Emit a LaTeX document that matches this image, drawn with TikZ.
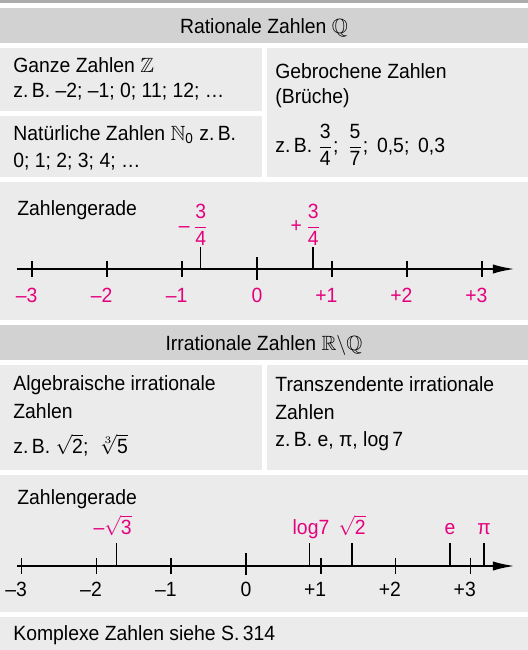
\documentclass[tikz,border=0pt]{standalone}
\usepackage{amsmath}
\usepackage{amssymb}
\usepackage{fontspec}
\setmainfont{Liberation Sans}[FakeStretch=0.94]
\usetikzlibrary{
  arrows.meta,
  positioning
}
\definecolor{zbBar}{HTML}{ABACAB}
\definecolor{zbHead}{HTML}{D1D2D1}
\definecolor{zbPanel}{HTML}{EBEBEB}
\definecolor{zbMag}{HTML}{E5007D}
\newcommand{\zbsize}{\fontsize{10.3}{12.4}\selectfont}
\newcommand{\zbfr}[2]{\dfrac{\text{#1}}{\text{#2}}}
\tikzset{
  headpanel/.style={fill=zbHead},
  panel/.style={fill=zbPanel},
  boxtext/.style={anchor=base west, inner sep=0pt, align=left, font=\zbsize},
  headtext/.style={anchor=base, inner sep=0pt, font=\zbsize},
  axis/.style={line width=1.1pt, -{Latex[length=11pt, width=4.6pt]}},
  tick/.style={line width=0.75pt},
  numlabel/.style={anchor=base, inner sep=0pt, font=\zbsize},
  hilabel/.style={numlabel, text=zbMag}
}

\begin{document}
\begin{tikzpicture}[x=0.5pt, y=-0.5pt]
  \useasboundingbox (0,0) rectangle (528,650);
  % panels
  \fill[zbBar] (0,0) rectangle (528,3);
  \fill[headpanel] (0,8) rectangle (528,43);
  \fill[panel] (0,48) rectangle (262,111);
  \fill[panel] (0,116) rectangle (262,177);
  \fill[panel] (267,48) rectangle (528,177);
  \fill[panel] (0,182) rectangle (528,320);
  \fill[headpanel] (0,325) rectangle (528,360);
  \fill[panel] (0,365) rectangle (262,470);
  \fill[panel] (267,365) rectangle (528,470);
  \fill[panel] (0,475) rectangle (528,612);
  \fill[panel] (0,617) rectangle (528,650);

  % rationale Zahlen (base = last line)
  \node[headtext] (qhead) at (264,33) {Rationale Zahlen $\mathbb{Q}$};
  \node[boxtext] (ganze) at (13,97) {Ganze Zahlen $\mathbb{Z}$\\z.\,B. –2; –1; 0; 11; 12; …};
  \node[boxtext] (natur) at (13,167) {Natürliche Zahlen $\mathbb{N}_{\text{0}}$ z.\,B.\\[1pt]0; 1; 2; 3; 4; …};
  \node[boxtext] (bruch) at (275,103) {Gebrochene Zahlen\\(Brüche)};
  \node[boxtext] (bruchbsp) at (275,152) {z.\,B. $\zbfr{3}{4}$;\, $\zbfr{5}{7}$;\ \,0,5;\ \,0,3};

  % Zahlengerade 1
  \node[boxtext] (zg1) at (17,215) {Zahlengerade};
  \coordinate (za1) at (17,269);
  \coordinate (ze1) at (515,269);
  \draw[axis] (za1) -- (ze1);
  \foreach \k in {-3,-2,-1,1,2,3}
    \draw[tick] ({257+75*\k},261) -- ({257+75*\k},277);
  \draw[tick] (257,257) -- (257,280);
  \foreach \k/\t in {-3/{\llap{–}3},-2/{\llap{–}2},-1/{\llap{–}1},0/0,1/{\llap{+}1},2/{\llap{+}2},3/{\llap{+}3}}
    \node[hilabel] (zga\k) at ({257+75*\k},302) {\t};
  \draw[tick] (200.75,247) -- (200.75,269);
  \draw[tick] (313.25,247) -- (313.25,269);
  \node[hilabel, anchor=center] (mdv) at (200.75,225) {\llap{–\,}$\zbfr{3}{4}$};
  \node[hilabel, anchor=center] (pdv) at (313.25,225) {\llap{+\,}$\zbfr{3}{4}$};

  % irrationale Zahlen
  \node[headtext] (rhead) at (264,350) {Irrationale Zahlen $\mathbb{R}\backslash\mathbb{Q}$};
  \node[boxtext] (algeb) at (13,418) {Algebraische irrationale\\[1.5pt]Zahlen};
  \node[boxtext] (algebsp) at (13,453) {z.\,B. $\sqrt{\text{2}}$;\ \ $\sqrt[3]{\text{5}}$};
  \node[boxtext] (transz) at (275,446) {Transzendente irrationale\\[1.5pt]Zahlen\\[1pt]z.\,B. e, π, log\,7};

  % Zahlengerade 2
  \node[boxtext] (zg2) at (17,504) {Zahlengerade};
  \coordinate (za2) at (17,566);
  \coordinate (ze2) at (515,566);
  \draw[axis] (za2) -- (ze2);
  \foreach \k in {-3,-2,-1,1,2,3}
    \draw[tick] ({246+74.8*\k},558) -- ({246+74.8*\k},574);
  \draw[tick] (246,553) -- (246,575);
  \foreach \k/\t in {-3/{\llap{–}3},-2/{\llap{–}2},-1/{\llap{–}1},0/0,1/{\llap{+}1},2/{\llap{+}2},3/{\llap{+}3}}
    \node[numlabel] (zgb\k) at ({246+74.8*\k},596) {\t};
  \foreach \x in {116.4, 309.6, 351.8, 450, 484}
    \draw[tick] (\x,543) -- (\x,566);
  \node[hilabel] (msq3) at (118,534) {\llap{–}$\sqrt{\text{3}}$};
  \node[hilabel] (lg7) at (311,534) {log7};
  \node[hilabel] (sq2) at (352,534) {$\sqrt{\text{2}}$};
  \node[hilabel] (ee) at (450,534) {e};
  \node[hilabel] (pi) at (484,534) {π};

  % komplexe Zahlen
  \node[boxtext] (kompl) at (13,640) {Komplexe Zahlen siehe S.\,314};
\end{tikzpicture}
\end{document}
